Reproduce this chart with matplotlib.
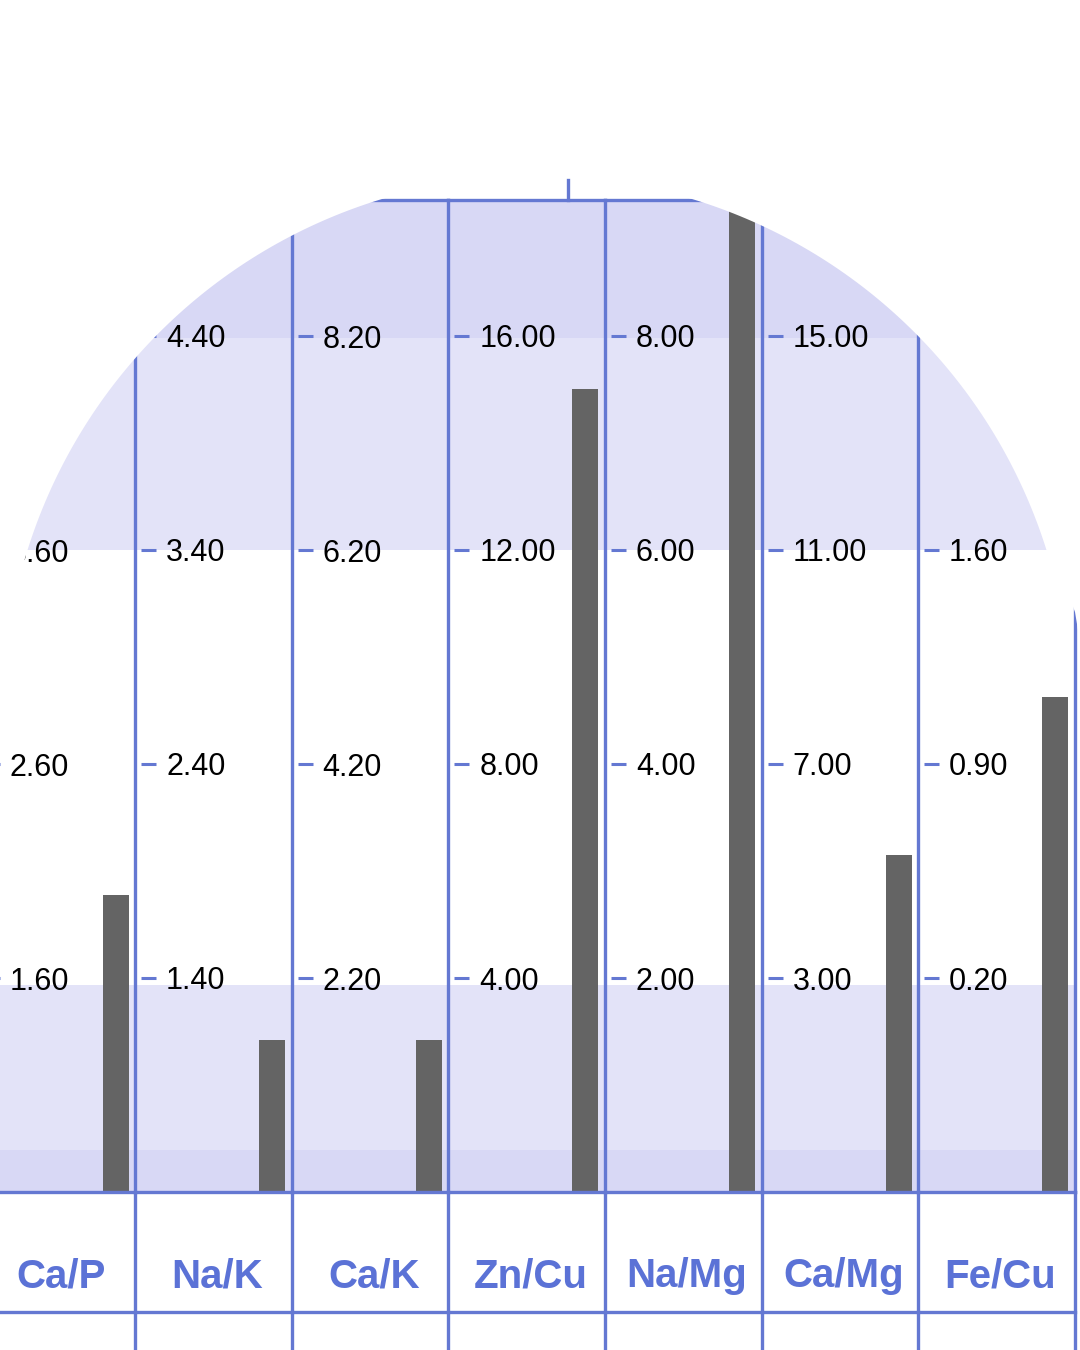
import numpy as np
import matplotlib.pyplot as plt
from matplotlib.path import Path
from matplotlib.patches import PathPatch
from matplotlib.lines import Line2D

plt.rcParams['font.family'] = ['Liberation Sans', 'DejaVu Sans']

# ---- data ----
ratios = ['Ca/P', 'Na/K', 'Ca/K', 'Zn/Cu', 'Na/Mg', 'Ca/Mg', 'Fe/Cu']
values = [1.99, 1.11, 1.62, 15.0, 9.6, 5.30, 1.12]
tick_values = [
    [1.60, 2.60, 3.60, 4.60],
    [1.40, 2.40, 3.40, 4.40],
    [2.20, 4.20, 6.20, 8.20],
    [4.00, 8.00, 12.00, 16.00],
    [2.00, 4.00, 6.00, 8.00],
    [3.00, 7.00, 11.00, 15.00],
    [0.20, 0.90, 1.60, 2.30],
]

# ---- layout (pixels) ----
W, H = 1080, 1350
COL_X0 = -21.5
COL_W = 156.6
CHART_TOP = 200
BASE_Y = 1192
LABEL_BOT = 1312
ROW_PX = 214

BLUE = '#6478d2'
LABEL_BLUE = '#5b72d6'
DARK = '#d8d8f5'
LIGHT = '#e3e3f8'
BAR = '#646464'

n_steps = (BASE_Y - CHART_TOP) / ROW_PX
bands = [(0, 0.196, DARK), (0.196, 0.967, LIGHT), (3.0, 3.99, LIGHT), (3.99, n_steps + 0.1, DARK)]


def fig_rect(x0, y0, x1, y1):
    return [x0 / W, 1 - y1 / H, (x1 - x0) / W, (y1 - y0) / H]


fig = plt.figure(figsize=(10.8, 13.5), dpi=100)

# background bands
bg = fig.add_axes(fig_rect(COL_X0, CHART_TOP, COL_X0 + 7 * COL_W, BASE_Y), zorder=0)
bg.set_xlim(0, 1)
bg.set_ylim(0, n_steps)
bg.axis('off')
for lo, hi, c in bands:
    bg.axhspan(lo, hi, color=c, lw=0)

for i, (name, val, ticks) in enumerate(zip(ratios, values, tick_values)):
    left = COL_X0 + i * COL_W
    step = ticks[1] - ticks[0]
    y_lo = ticks[0] - step
    y_hi = y_lo + step * n_steps

    ax = fig.add_axes(fig_rect(left, CHART_TOP, left + COL_W, BASE_Y), zorder=1)
    ax.patch.set_alpha(0)
    ax.set_xlim(0, 1)
    ax.set_ylim(y_lo, y_hi)
    ax.bar(0.875, val - y_lo, bottom=y_lo, width=0.166, color=BAR, zorder=2)

    ax.spines['left'].set_position(('axes', 6 / COL_W))
    ax.spines['left'].set_visible(False)
    ax.spines['right'].set_visible(i == 6)
    for s in ['top', 'bottom', 'right']:
        ax.spines[s].set_color(BLUE)
        ax.spines[s].set_linewidth(2.4)
    ax.axvline(0, color=BLUE, lw=2.4, clip_on=False, zorder=3)

    ax.set_xticks([])
    ax.set_yticks(ticks)
    ax.set_yticklabels([f'{t:.2f}' for t in ticks])
    ax.tick_params(axis='y', direction='in', length=10.8, width=2.2,
                   color=BLUE, pad=-18, labelsize=22, labelcolor='black')
    for lab in ax.get_yticklabels():
        lab.set_ha('left')

    # label row + row below
    lax = fig.add_axes(fig_rect(left, BASE_Y, left + COL_W, H + 20), zorder=1)
    lax.patch.set_alpha(0)
    lax.set_xlim(0, 1)
    lax.set_ylim(H + 20, BASE_Y)
    lax.axis('off')
    lax.axvline(0, color=BLUE, lw=2.4, clip_on=False)
    if i == 6:
        lax.axvline(1, color=BLUE, lw=2.4, clip_on=False)
    lax.axhline(LABEL_BOT, color=BLUE, lw=2.4, clip_on=False)
    lax.text(0.525, 1287, name, ha='center', va='baseline', fontsize=29,
             fontweight='bold', color=LABEL_BLUE)

# small tick above the top border
fig.add_artist(Line2D([568 / W, 568 / W], [1 - 180 / H, 1 - 200 / H],
                      transform=fig.transFigure, color=BLUE, lw=2.4, zorder=5))

# ---- mask: circle on top, rounded rectangle below ----
cx, cy, r = 537, 710, 534
t_right = np.arcsin((cy - 568) / r)
t_left = np.pi - np.arcsin((cy - 582) / r)
ts = np.linspace(t_right, t_left, 200)
arc = [(cx + r * np.cos(t), cy - r * np.sin(t)) for t in ts]
verts = [(-5, -5), (W + 5, -5), (W + 5, H + 5), (1078, H + 5), (1078, 1340),
         (1078, 630), (1075, 612), (1069, 596), (1060, 580)]
verts += arc
verts += [(-5, 582), (-5, -5)]
verts = [(x / W, 1 - y / H) for x, y in verts]
mask = PathPatch(Path(verts, closed=True), facecolor='white', edgecolor='none',
                 transform=fig.transFigure, zorder=100)
fig.add_artist(mask)

fig.savefig('out.png', dpi=100)
